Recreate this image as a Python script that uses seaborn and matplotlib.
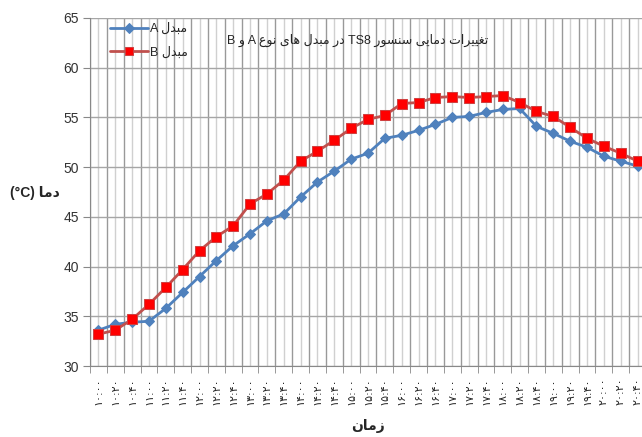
import numpy as np
import matplotlib
matplotlib.use("Agg")
import matplotlib.pyplot as plt
import seaborn as sns

# Temperature of sensor TS8 in exchangers A and B, every 20 minutes
times = ["10:00", "10:20", "10:40", "11:00", "11:20", "11:40", "12:00",
         "12:20", "12:40", "13:00", "13:20", "13:40", "14:00", "14:20",
         "14:40", "15:00", "15:20", "15:40", "16:00", "16:20", "16:40",
         "17:00", "17:20", "17:40", "18:00", "18:20", "18:40", "19:00",
         "19:20", "19:40", "20:00", "20:20", "20:40"]
mabdal_a = [33.6, 34.2, 34.4, 34.5, 35.8, 37.4, 39.0, 40.6, 42.1, 43.3,
            44.6, 45.3, 47.0, 48.5, 49.6, 50.8, 51.4, 52.9, 53.2, 53.7,
            54.3, 55.0, 55.1, 55.5, 55.8, 55.9, 54.1, 53.4, 52.6, 52.0,
            51.1, 50.6, 50.1]
mabdal_b = [33.2, 33.6, 34.7, 36.2, 37.9, 39.7, 41.6, 43.0, 44.1, 46.3,
            47.3, 48.7, 50.6, 51.6, 52.7, 53.9, 54.8, 55.2, 56.4, 56.5,
            57.0, 57.1, 57.0, 57.1, 57.2, 56.5, 55.6, 55.1, 54.0, 52.9,
            52.1, 51.4, 50.6]

title_txt = "تغییرات دمایی سنسور TS8 در مبدل های نوع A و B"
label_a = "مبدل A"
label_b = "مبدل B"
ylabel_txt = "دما (°C)"
xlabel_txt = "زمان"

# matplotlib does not shape arabic script, so pick presentation forms by hand
# letter: (isolated, final, initial, medial)
FORMS = {
    "ا": ("\uFE8D", "\uFE8E", None, None),
    "ب": ("\uFE8F", "\uFE90", "\uFE91", "\uFE92"),
    "ت": ("\uFE95", "\uFE96", "\uFE97", "\uFE98"),
    "د": ("\uFEA9", "\uFEAA", None, None),
    "ر": ("\uFEAD", "\uFEAE", None, None),
    "ز": ("\uFEAF", "\uFEB0", None, None),
    "س": ("\uFEB1", "\uFEB2", "\uFEB3", "\uFEB4"),
    "ع": ("\uFEC9", "\uFECA", "\uFECB", "\uFECC"),
    "غ": ("\uFECD", "\uFECE", "\uFECF", "\uFED0"),
    "ل": ("\uFEDD", "\uFEDE", "\uFEDF", "\uFEE0"),
    "م": ("\uFEE1", "\uFEE2", "\uFEE3", "\uFEE4"),
    "ن": ("\uFEE5", "\uFEE6", "\uFEE7", "\uFEE8"),
    "ه": ("\uFEE9", "\uFEEA", "\uFEEB", "\uFEEC"),
    "و": ("\uFEED", "\uFEEE", None, None),
    "ی": ("\uFBFC", "\uFBFD", "\uFBFE", "\uFBFF"),
}


def shape_word(word):
    out = []
    for i, ch in enumerate(word):
        if ch not in FORMS:
            out.append(ch)
            continue
        prev = word[i - 1] if i > 0 else None
        nxt = word[i + 1] if i < len(word) - 1 else None
        jp = prev in FORMS and FORMS[prev][2] is not None
        jn = nxt in FORMS and FORMS[ch][2] is not None
        iso, fin, ini, med = FORMS[ch]
        if jp and jn:
            out.append(med)
        elif jp:
            out.append(fin)
        elif jn:
            out.append(ini)
        else:
            out.append(iso)
    return "".join(out)


def fa(text):
    words = text.split(" ")
    vis = []
    for w in words[::-1]:
        if any(c in FORMS for c in w):
            vis.append(shape_word(w)[::-1])
        else:
            vis.append(w)
    return " ".join(vis)


fa_digits = str.maketrans("0123456789", "۰۱۲۳۴۵۶۷۸۹")
tick_labels = [t.translate(fa_digits) for t in times]

sns.set_style("white")
plt.rcParams["font.family"] = ["Liberation Sans", "DejaVu Sans"]

W, H = 642, 437
fig = plt.figure(figsize=(W / 100, H / 100), dpi=100)
ax = fig.add_axes([90 / W, 71 / H, 556 / W, 348 / H])

idx = np.arange(len(times))
sns.lineplot(x=idx, y=mabdal_a, ax=ax, color="#4F81BD", linewidth=2.0,
             marker="D", markersize=5.5, markerfacecolor="#4F81BD",
             markeredgecolor="#4F81BD", label=fa(label_a))
sns.lineplot(x=idx, y=mabdal_b, ax=ax, color="#C0504D", linewidth=2.0,
             marker="s", markersize=7, markerfacecolor="#FF0000",
             markeredgecolor="#D04040", label=fa(label_b))

ax.set_xlim(-0.5, len(times) - 0.5)
ax.set_ylim(30, 65)
ax.set_yticks(np.arange(30, 66, 5))
ax.tick_params(axis="y", labelsize=10, length=5, color="#888888",
               left=True, pad=3, labelcolor="#333333")

# labels at category centers, tick marks at the boundaries
ax.set_xticks(idx)
ax.set_xticklabels(tick_labels, rotation=90, fontsize=8,
                   family="DejaVu Sans")
ax.set_xticks(np.arange(-0.5, len(times), 1), minor=True)
ax.tick_params(axis="x", which="major", length=0, pad=8)
ax.tick_params(axis="x", which="minor", length=5, color="#888888",
               bottom=True)

ax.grid(axis="x", which="major", color="#D0D0D0", linewidth=1)
ax.grid(axis="x", which="minor", color="#999999", linewidth=1)
ax.grid(axis="y", which="major", color="#A6A6A6", linewidth=1)
ax.set_axisbelow(True)
for side in ["top", "right"]:
    ax.spines[side].set_visible(False)
ax.spines["left"].set_color("#888888")
ax.spines["bottom"].set_color("#888888")

ax.text(0.482, 0.937, fa(title_txt), transform=ax.transAxes,
        ha="center", va="center", fontsize=9)
ax.set_xlabel(fa(xlabel_txt), fontsize=10, fontweight="bold", labelpad=10)
fig.text(35 / W, 1 - 193 / H, fa(ylabel_txt), ha="center", va="center",
         fontsize=10, fontweight="bold")

ax.legend(loc="upper left", bbox_to_anchor=(105 / W, 1 - 18 / H),
          bbox_transform=fig.transFigure, frameon=False, fontsize=9,
          handlelength=3, handletextpad=0.2, labelspacing=0.9,
          borderaxespad=0, markerscale=0.85)

fig.savefig("out.png", dpi=100)
